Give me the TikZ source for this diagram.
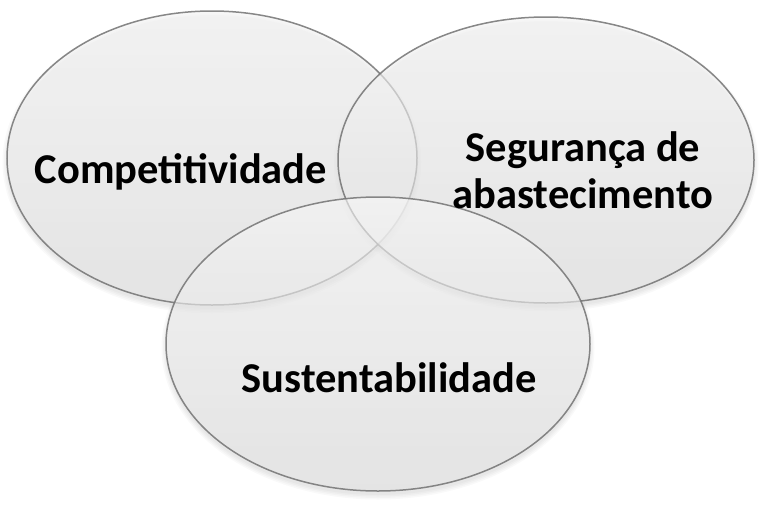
\documentclass[tikz,border=0pt]{standalone}
\usepackage{fontspec}
\setmainfont{Carlito}
\usetikzlibrary{shapes.geometric}
\begin{document}
\begin{tikzpicture}[x=1pt, y=-1pt,
      bubble/.style = {shape=ellipse, draw=black!55, line width=1.5pt,
        top color=gray!4, bottom color=gray!22, fill opacity=0.6,
        draw opacity=0.85, inner sep=0pt},
      halo/.style = {shape=ellipse, fill=black, fill opacity=0.025, draw=none},
      word/.style = {font=\bfseries\fontsize{42.5}{47}\selectfont,
        align=center, text=black}]
  \useasboundingbox (0,0) rectangle (760,504);
  % soft shadows
  \foreach \s in {0,3,6,9} {
    \node[halo, minimum width=410pt+\s pt, minimum height=294pt+\s pt] at (212,162) {};
    \node[halo, minimum width=416pt+\s pt, minimum height=286pt+\s pt] at (546,164) {};
    \node[halo, minimum width=424pt+\s pt, minimum height=294pt+\s pt] at (378,348) {};
  }
  % the three ellipses
  \node[bubble, minimum width=410pt, minimum height=294pt] (comp) at (212,158) {};
  \node[bubble, minimum width=416pt, minimum height=286pt] (seg) at (546,160) {};
  \node[bubble, minimum width=424pt, minimum height=294pt] (sust) at (378,344) {};
  % labels
  \node[word] (compt) at (181,172) {Competitividade};
  \node[word] (segt) at (583,170) {Segurança de\\abastecimento};
  \node[word] (sustt) at (389,378) {Sustentabilidade};
\end{tikzpicture}
\end{document}
